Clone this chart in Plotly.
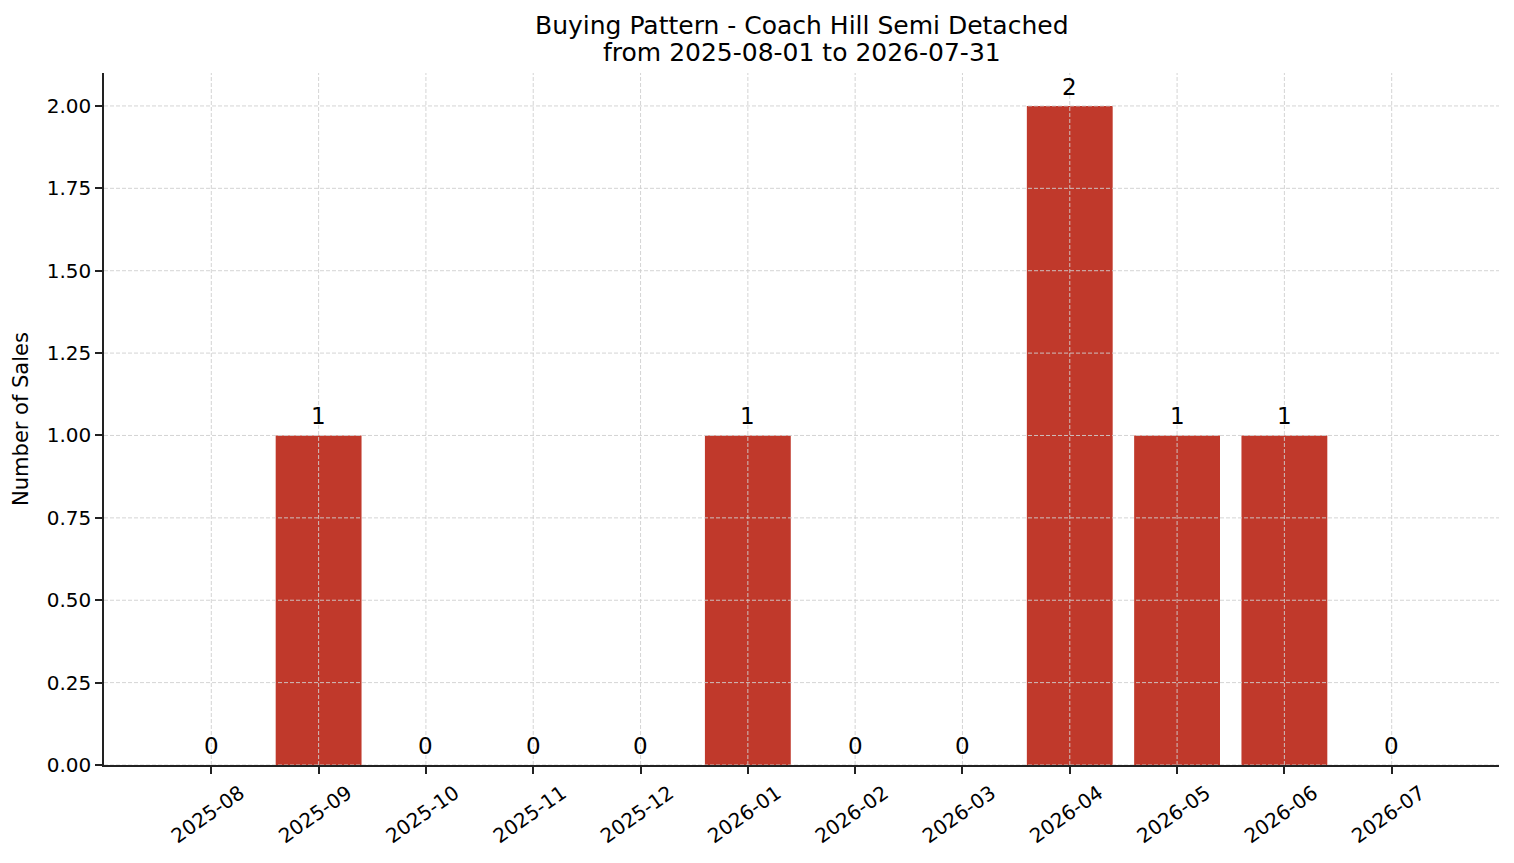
import plotly.graph_objects as go

months = ["2025-08", "2025-09", "2025-10", "2025-11", "2025-12", "2026-01",
          "2026-02", "2026-03", "2026-04", "2026-05", "2026-06", "2026-07"]
sales = [0, 1, 0, 0, 0, 1, 0, 0, 2, 1, 1, 0]
y_ticks = [0.0, 0.25, 0.5, 0.75, 1.0, 1.25, 1.5, 1.75, 2.0]

title_line1 = "Buying Pattern - Coach Hill Semi Detached"
title_line2 = "from 2025-08-01 to 2026-07-31"

FONT = "DejaVu Sans"
BAR = "#c0392b"
GRID = "#cfcfcf"
AXIS = "#222222"

fig = go.Figure()

fig.add_trace(
    go.Bar(
        x=months,
        y=sales,
        width=0.8,
        marker=dict(color=BAR, line=dict(width=0)),
        showlegend=False,
        hoverinfo="x+y",
    )
)

# value labels above each bar (zero months included)
labels = [
    dict(x=m, y=v, xref="x", yref="y", text=str(v), showarrow=False,
         xanchor="center", yanchor="bottom", yshift=4,
         font=dict(family=FONT, size=23, color="#000000"))
    for m, v in zip(months, sales)
]

titles = [
    dict(text=title_line1, xref="paper", yref="paper", x=0.5, y=1.069,
         xanchor="center", yanchor="middle", showarrow=False,
         font=dict(family=FONT, size=25, color="#000000")),
    dict(text=title_line2, xref="paper", yref="paper", x=0.5, y=1.029,
         xanchor="center", yanchor="middle", showarrow=False,
         font=dict(family=FONT, size=25, color="#000000")),
]

# matplotlib draws the grid on top of the bars here, so do it with shapes
grid = dict(color=GRID, width=0.9, dash="4px,2px")
grid_shapes = []
for m in months:
    grid_shapes.append(dict(type="line", xref="x", yref="paper", x0=m, x1=m, y0=0, y1=1,
                            line=grid, layer="above"))
for t in y_ticks:
    grid_shapes.append(dict(type="line", xref="paper", yref="y", x0=0, x1=1, y0=t, y1=t,
                            line=grid, layer="above"))

# page body keeps its default 8px margin, so size the figure to fit inside it
fig.update_layout(
    width=1498,
    height=847,
    paper_bgcolor="white",
    plot_bgcolor="white",
    margin=dict(l=96, r=7, t=65, b=88),
    font=dict(family=FONT, size=20, color="#000000"),
    shapes=grid_shapes,
    annotations=titles + labels,
)

fig.update_xaxes(
    type="category",
    range=[-1, 12],
    showgrid=False,
    showline=True,
    linecolor=AXIS,
    linewidth=1.5,
    ticks="outside",
    ticklen=7,
    tickwidth=1.5,
    tickcolor=AXIS,
    tickangle=-35,
    ticklabelshift=29,
    tickfont=dict(family=FONT, size=20),
    zeroline=False,
)

fig.update_yaxes(
    range=[0, 2.1],
    tickvals=y_ticks,
    tickformat=".2f",
    showgrid=False,
    showline=True,
    linecolor=AXIS,
    linewidth=1.5,
    ticks="outside",
    ticklen=7,
    tickwidth=1.5,
    tickcolor=AXIS,
    tickfont=dict(family=FONT, size=20),
    zeroline=False,
    title=dict(text="Number of Sales", font=dict(family=FONT, size=21), standoff=12),
)

fig.write_html("out.html")
